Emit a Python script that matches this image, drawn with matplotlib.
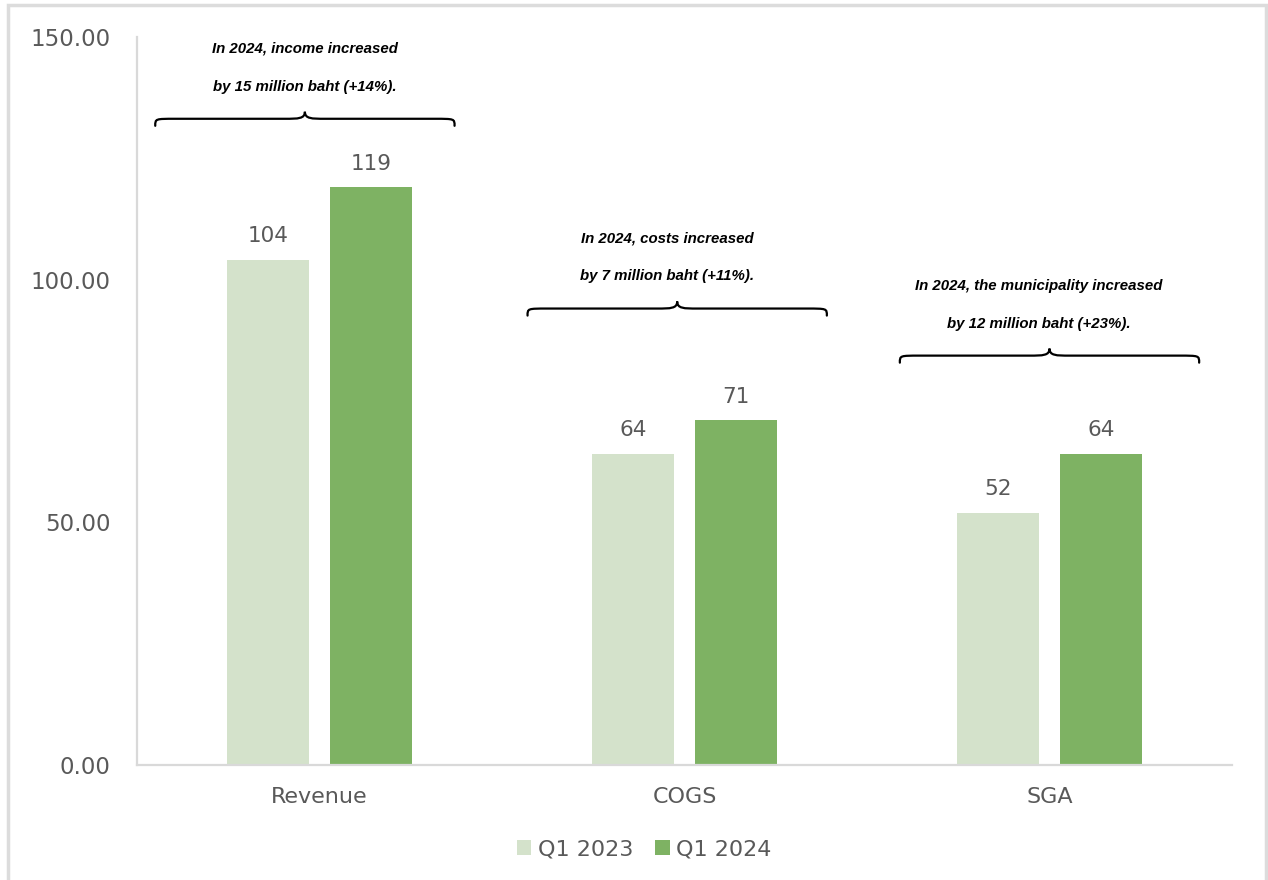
import matplotlib
matplotlib.use("Agg")
import matplotlib.pyplot as plt
import numpy as np
from matplotlib.path import Path
from matplotlib.patches import PathPatch, Rectangle

categories = ["Revenue", "COGS", "SGA"]
q1_2023 = [104, 64, 52]
q1_2024 = [119, 71, 64]
series_names = ["Q1 2023", "Q1 2024"]
notes = [
    "In 2024, income increased\n\nby 15 million baht (+14%).",
    "In 2024, costs increased\n\nby 7 million baht (+11%).",
    "In 2024, the municipality increased\n\nby 12 million baht (+23%).",
]
# brace levels (value units) per category
brace_levels = [131.7, 92.6, 82.9]
yticks = [0, 50, 100, 150]

LIGHT = "#d4e2cb"
DARK = "#7eb263"
GRAY = "#595959"
BRACE_SHIFT = [-0.04, -0.02, 0.0]
TEXT_DX = [0, -10, -11]


def draw_brace(ax, xc, y0, half=0.41, q=0.055, h=1.45):
    # curly brace, ends curl down, tip points up
    x0, x1 = xc - half, xc + half
    yh = y0 + h
    yt = yh + h
    verts = [
        (x0, y0),
        (x0, yh), (x0, yh), (x0 + q, yh),
        (xc - q, yh),
        (xc - q / 3, yh), (xc, yh), (xc, yt),
        (xc, yh), (xc + q / 3, yh), (xc + q, yh),
        (x1 - q, yh),
        (x1, yh), (x1, yh), (x1, y0),
    ]
    codes = [Path.MOVETO,
             Path.CURVE4, Path.CURVE4, Path.CURVE4,
             Path.LINETO,
             Path.CURVE4, Path.CURVE4, Path.CURVE4,
             Path.CURVE4, Path.CURVE4, Path.CURVE4,
             Path.LINETO,
             Path.CURVE4, Path.CURVE4, Path.CURVE4]
    ax.add_patch(PathPatch(Path(verts, codes), fill=False, lw=1.6,
                           edgecolor="black", capstyle="round", clip_on=False))
    return yt


fig = plt.figure(figsize=(12.68, 8.8), dpi=100)
ax = fig.add_axes([137 / 1268, 115 / 880, 1095 / 1268, 728 / 880])

x = np.arange(len(categories))
off = 0.141
w = 0.225
ax.bar(x - off, q1_2023, width=w, color=LIGHT, label=series_names[0])
ax.bar(x + off, q1_2024, width=w, color=DARK, label=series_names[1])

for xi, v in zip(x - off, q1_2023):
    ax.annotate(f"{v}", (xi, v), xytext=(0, 10), textcoords="offset points",
                ha="center", va="bottom", fontsize=15.5, color=GRAY, family="DejaVu Sans")
for xi, v in zip(x + off, q1_2024):
    ax.annotate(f"{v}", (xi, v), xytext=(0, 10), textcoords="offset points",
                ha="center", va="bottom", fontsize=15.5, color=GRAY, family="DejaVu Sans")

for i, (note, yb) in enumerate(zip(notes, brace_levels)):
    xc = i + BRACE_SHIFT[i]
    yt = draw_brace(ax, xc, yb)
    ax.annotate(note, (xc, yt), xytext=(TEXT_DX[i] * 0.72, 13), textcoords="offset points",
                ha="center", va="bottom", fontsize=10.8, fontweight="bold",
                fontstyle="italic", family="Liberation Sans", linespacing=1.45,
                multialignment="center")

ax.set_xlim(-0.5, 2.5)
ax.set_ylim(0, 150)
ax.set_yticks(yticks)
ax.set_yticklabels([f"{t:.2f}" for t in yticks])
ax.set_xticks(x)
ax.set_xticklabels(categories)
ax.tick_params(axis="y", length=0, pad=19, labelsize=16.5, labelcolor=GRAY)
ax.tick_params(axis="x", length=0, pad=16, labelsize=16, labelcolor=GRAY)
for lab in ax.get_xticklabels() + ax.get_yticklabels():
    lab.set_family("DejaVu Sans")

for side in ["top", "right"]:
    ax.spines[side].set_visible(False)
for side in ["left", "bottom"]:
    ax.spines[side].set_color("#d9d9d9")
    ax.spines[side].set_linewidth(1.6)

fig.legend(loc="center", bbox_to_anchor=(0.508, 0.035), ncol=2, frameon=False,
           prop={"family": "DejaVu Sans", "size": 16}, labelcolor=GRAY,
           handlelength=0.65, handleheight=0.65, handletextpad=0.3, columnspacing=1.0)

fig.patches.append(Rectangle((8 / 1268, -0.01), 1258 / 1268, 1 - 5 / 880 + 0.01,
                             transform=fig.transFigure, fill=False,
                             edgecolor="#dcdcdc", lw=2.5))

plt.savefig("out.png", dpi=100)
plt.close()
